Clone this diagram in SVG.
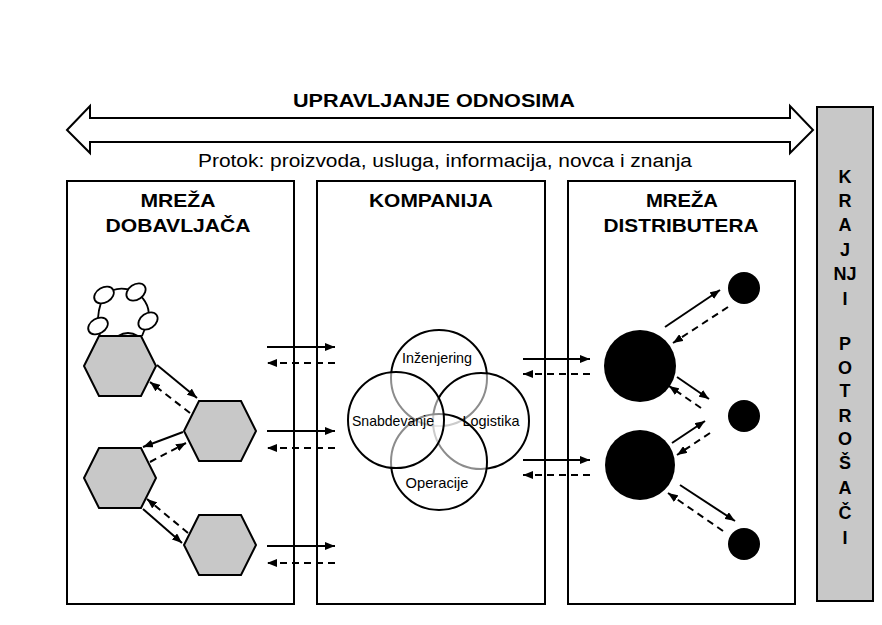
<svg xmlns="http://www.w3.org/2000/svg" width="882" height="625" viewBox="0 0 882 625">
<defs>
<marker id="ah" viewBox="0 0 10 8" refX="10" refY="4" markerWidth="10" markerHeight="8" markerUnits="userSpaceOnUse" orient="auto">
<path d="M0,0 L10,4 L0,8 Z" fill="#000"/>
</marker>
<polygon id="hexShape" points="-36,0 -21,-30 21,-30 36,0 21,30 -21,30"/>
</defs>
<style>
.box{fill:#fff;stroke:#000;stroke-width:2}
.hex{fill:#c8c8c8;stroke:#000;stroke-width:2}
.t{font-family:"Liberation Sans",Arial,sans-serif;fill:#000}
.b{font-weight:bold;font-size:18px}
.s{font-size:14.5px}
.v{fill:#fff;fill-opacity:0.55;stroke:#000;stroke-width:2}
.a{stroke:#000;stroke-width:2;fill:none;marker-end:url(#ah)}
.d{stroke:#000;stroke-width:2;fill:none;stroke-dasharray:7 5;marker-end:url(#ah)}
.dot{fill:#000}
.cl{fill:#fff;stroke:#000;stroke-width:1.8}
</style>
<rect width="882" height="625" fill="#fff"/>

<g id="relations">
<path d="M67,130 L90,106 L90,118 L790,118 L790,106 L813,130 L790,153 L790,142 L90,142 L90,153 Z" fill="#fff" stroke="#000" stroke-width="2" stroke-linejoin="miter"/>
<text class="t b" x="434" y="107" text-anchor="middle" textLength="282" lengthAdjust="spacingAndGlyphs">UPRAVLJANJE ODNOSIMA</text>
<text class="t" x="445" y="167" font-size="18" text-anchor="middle" textLength="494" lengthAdjust="spacingAndGlyphs">Protok: proizvoda, usluga, informacija,  novca i znanja</text>
</g>

<g id="consumers">
<rect x="817" y="107" width="56" height="494" fill="#c8c8c8" stroke="#000" stroke-width="2"/>
<g class="t b" text-anchor="middle">
<text x="845" y="183">K</text>
<text x="845" y="207">R</text>
<text x="845" y="231">A</text>
<text x="845" y="256">J</text>
<text x="845" y="280">NJ</text>
<text x="845" y="305">I</text>
<text x="845" y="350">P</text>
<text x="845" y="374">O</text>
<text x="845" y="397">T</text>
<text x="845" y="422">R</text>
<text x="845" y="445">O</text>
<text x="845" y="469">Š</text>
<text x="845" y="494">A</text>
<text x="845" y="519">Č</text>
<text x="845" y="544">I</text>
</g>
</g>

<g id="supplier-network">
<rect class="box" x="67" y="181" width="227" height="423"/>
<text class="t b" x="178" y="207" text-anchor="middle" textLength="75" lengthAdjust="spacingAndGlyphs">MREŽA</text>
<text class="t b" x="178" y="232" text-anchor="middle" textLength="145" lengthAdjust="spacingAndGlyphs">DOBAVLJAČA</text>
<path d="M104,295 Q118,284 136,292 Q152,304 148,321 L142,336 M104,295 Q97,310 98,326 L100,336 M118,336 Q128,330 138,336" fill="none" stroke="#000" stroke-width="1.8"/>
<ellipse class="cl" cx="104" cy="295" rx="10.5" ry="7.5" transform="rotate(-30 104 295)"/>
<ellipse class="cl" cx="136" cy="292" rx="10.5" ry="7.5" transform="rotate(-35 136 292)"/>
<ellipse class="cl" cx="98" cy="326" rx="10.5" ry="7.5" transform="rotate(-30 98 326)"/>
<ellipse class="cl" cx="148" cy="321" rx="10.5" ry="7.5" transform="rotate(-35 148 321)"/>
<use href="#hexShape" class="hex" x="120" y="366"/>
<use href="#hexShape" class="hex" x="220" y="431"/>
<use href="#hexShape" class="hex" x="120" y="478"/>
<use href="#hexShape" class="hex" x="220" y="545"/>
</g>

<g id="company">
<rect class="box" x="317" y="181" width="228" height="423"/>
<text class="t b" x="431" y="207" text-anchor="middle" textLength="124" lengthAdjust="spacingAndGlyphs">KOMPANIJA</text>
<circle class="v" cx="439" cy="378" r="48"/>
<circle class="v" cx="481" cy="421" r="48"/>
<circle class="v" cx="439" cy="462" r="48"/>
<circle class="v" cx="396" cy="420" r="48"/>
<text class="t s" x="437" y="363" text-anchor="middle" textLength="70" lengthAdjust="spacingAndGlyphs">Inženjering</text>
<text class="t s" x="393" y="426" text-anchor="middle" textLength="82" lengthAdjust="spacingAndGlyphs">Snabdevanje</text>
<text class="t s" x="491" y="426" text-anchor="middle" textLength="57" lengthAdjust="spacingAndGlyphs">Logistika</text>
<text class="t s" x="437" y="488" text-anchor="middle" textLength="63" lengthAdjust="spacingAndGlyphs">Operacije</text>
</g>

<g id="distributor-network">
<rect class="box" x="568" y="181" width="227" height="423"/>
<text class="t b" x="682" y="207" text-anchor="middle" textLength="72" lengthAdjust="spacingAndGlyphs">MREŽA</text>
<text class="t b" x="681" y="232" text-anchor="middle" textLength="155" lengthAdjust="spacingAndGlyphs">DISTRIBUTERA</text>
<circle class="dot" cx="640" cy="366" r="36"/>
<circle class="dot" cx="640" cy="465" r="35"/>
<circle class="dot" cx="744" cy="288" r="16"/>
<circle class="dot" cx="744" cy="416" r="16"/>
<circle class="dot" cx="744" cy="544" r="16"/>
</g>

<g id="connectors">
<line class="a" x1="157" y1="365" x2="197" y2="398"/>
<line class="d" x1="190" y1="413" x2="150" y2="382"/>
<line class="a" x1="183" y1="432" x2="143" y2="447"/>
<line class="d" x1="150" y1="462" x2="186" y2="443"/>
<line class="a" x1="143" y1="509" x2="182" y2="543"/>
<line class="d" x1="188" y1="533" x2="147" y2="499"/>

<line class="a" x1="267" y1="347" x2="335" y2="347"/>
<line class="d" x1="335" y1="363" x2="267" y2="363"/>
<line class="a" x1="267" y1="431" x2="335" y2="431"/>
<line class="d" x1="335" y1="448" x2="267" y2="448"/>
<line class="a" x1="267" y1="546" x2="335" y2="546"/>
<line class="d" x1="335" y1="563" x2="267" y2="563"/>

<line class="a" x1="523" y1="359" x2="590" y2="359"/>
<line class="d" x1="590" y1="374" x2="523" y2="374"/>
<line class="a" x1="523" y1="460" x2="590" y2="460"/>
<line class="d" x1="590" y1="475" x2="523" y2="475"/>

<line class="a" x1="665" y1="327" x2="720" y2="290"/>
<line class="d" x1="728" y1="307" x2="673" y2="343"/>
<line class="a" x1="677" y1="377" x2="709" y2="399"/>
<line class="d" x1="701" y1="408" x2="669" y2="386"/>
<line class="a" x1="672" y1="443" x2="705" y2="421"/>
<line class="d" x1="710" y1="433" x2="677" y2="455"/>
<line class="a" x1="680" y1="485" x2="735" y2="521"/>
<line class="d" x1="723" y1="531" x2="668" y2="493"/>
</g>
</svg>
